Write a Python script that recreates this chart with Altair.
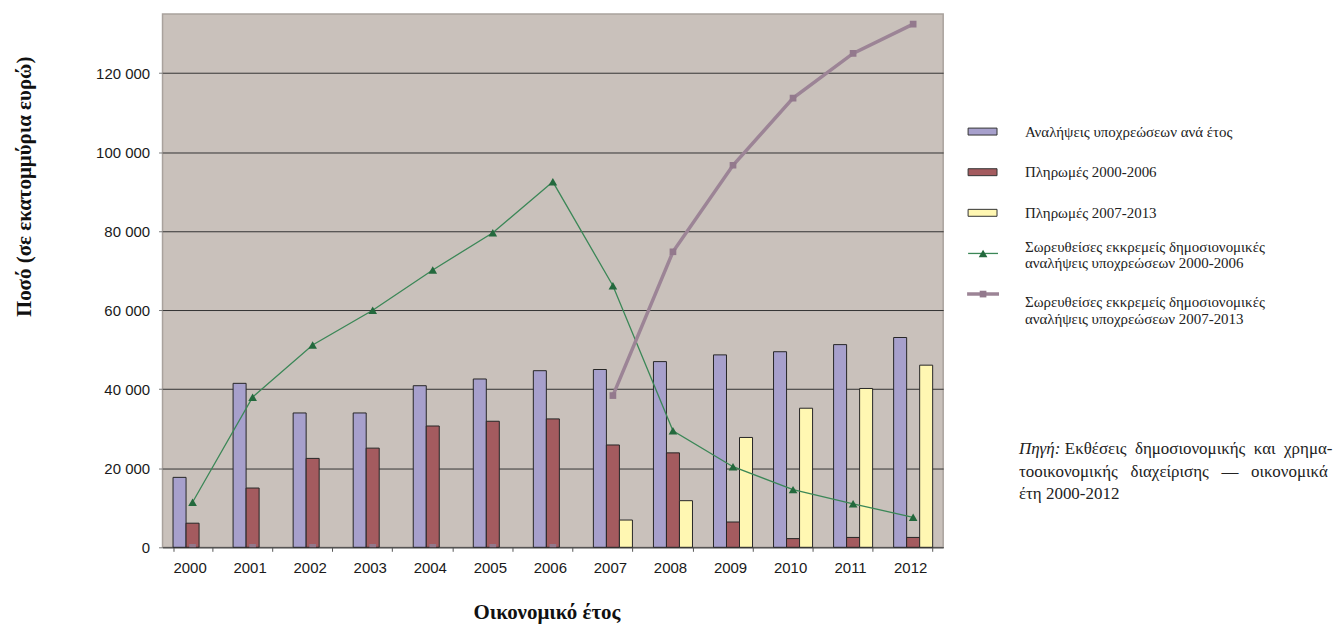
import altair as alt
import pandas as pd

years = [str(y) for y in range(2000, 2013)]

bar_series = ["Αναλήψεις υποχρεώσεων ανά έτος", "Πληρωμές 2000-2006", "Πληρωμές 2007-2013"]
commitments = [17700, 41500, 34000, 34000, 40900, 42600, 44700, 45000, 47000, 48700, 49500, 51300, 53100]
pay_0006 = [6100, 15000, 22500, 25100, 30700, 31900, 32500, 25900, 23900, 6400, 2200, 2500, 2500]
pay_0713 = [0, 0, 0, 0, 0, 0, 0, 6900, 11800, 27800, 35200, 40200, 46100]

ral_0006 = [11400, 38000, 51200, 60000, 70200, 79600, 92500, 66200, 29500, 20400, 14600, 11000, 7600]
ral_0713 = [0, 0, 0, 0, 0, 0, 0, 38400, 74800, 96700, 113700, 125000, 132400]

legend_labels = [
    "Αναλήψεις υποχρεώσεων ανά έτος",
    "Πληρωμές 2000-2006",
    "Πληρωμές 2007-2013",
    "Σωρευθείσες εκκρεμείς δημοσιονομικές\nαναλήψεις υποχρεώσεων 2000-2006",
    "Σωρευθείσες εκκρεμείς δημοσιονομικές\nαναλήψεις υποχρεώσεων 2007-2013",
]
NB = "\u00a0"
source_head = "Πηγή:"
source_line1 = "Εκθέσεις" + NB + " δημοσιονομικής" + NB + " και" + NB + " χρημα-"
source_rest = ("τοοικονομικής" + NB * 2 + " διαχείρισης" + NB * 2 + " —" + NB * 2 + " οικονομικά"
               + "\nέτη 2000-2012")

bar_colors = ["#A7A0CC", "#A45B5F", "#FFF7B2"]
green_line_c = "#3B8757"
green_mark_c = "#23693D"
purple_line_c = "#9C8496"
purple_mark_c = "#93798D"

rows = []
for vals, s in zip([commitments, pay_0006, pay_0713], bar_series):
    for y, v in zip(years, vals):
        rows.append({"year": y, "series": s, "value": v})
bars_df = pd.DataFrame(rows)
bars_df = bars_df[bars_df["value"] > 0]

lines_df = pd.DataFrame({"year": years, "v1": ral_0006, "v2": ral_0713})

x_title = "Οικονομικό  έτος"
y_title = "Ποσό (σε εκατομμύρια ευρώ)"
x_scale = alt.Scale(paddingInner=0.35, paddingOuter=0.175)
y_scale = alt.Scale(domain=[0, 135000], nice=False)
x_axis = alt.Axis(labelAngle=0, tickBand="extent", labelOffset=-3, titleX=385)
y_axis = alt.Axis(values=[0, 20000, 40000, 60000, 80000, 100000, 120000],
                  labelExpr="replace(format(datum.value, ','), ',', ' ')", titleY=173)

def X():
    return alt.X("year:N", scale=x_scale, axis=x_axis, title=x_title)

def Y(field):
    return alt.Y(field, scale=y_scale, axis=y_axis, title=y_title)

bars = alt.Chart(bars_df).mark_bar(stroke="#262626", strokeWidth=1).encode(
    x=X(),
    xOffset=alt.XOffset("series:N", scale=alt.Scale(domain=bar_series, paddingInner=0, paddingOuter=0)),
    y=Y("value:Q"),
    fill=alt.Fill("series:N", scale=alt.Scale(domain=bar_series, range=bar_colors), legend=None),
)

base = alt.Chart(lines_df)
green_line = base.mark_line(color=green_line_c, strokeWidth=1.3).encode(x=X(), y=Y("v1:Q"))
green_pts = base.mark_point(shape="triangle-up", filled=True, size=75, color=green_mark_c, opacity=1).encode(
    x=X(), y=Y("v1:Q"))
purple_line = base.transform_filter("datum.v2 > 0").mark_line(color=purple_line_c, strokeWidth=3.5).encode(
    x=X(), y=Y("v2:Q"))
purple_pts = base.mark_point(shape="square", filled=True, size=45, color=purple_mark_c, opacity=1, clip=True).encode(
    x=X(), y=Y("v2:Q"))

main = alt.layer(bars, green_line, green_pts, purple_line, purple_pts).properties(
    width=783, height=535,
    view=alt.ViewBackground(fill="#C9C1BB", stroke="#A9A29D", strokeWidth=1.5),
)

# legend panel
leg_df = pd.DataFrame({"label": legend_labels, "row": list(range(len(legend_labels)))})
ly_scale = alt.Scale(domain=[-2.896, 10.233], reverse=True, nice=False, zero=False)
LY = alt.Y("row:Q", scale=ly_scale, axis=None)
lbase = alt.Chart(leg_df)

leg_bars = lbase.transform_filter("datum.row < 3").mark_point(
    shape="M-1,-0.24H1V0.24H-1Z", size=841, filled=True, stroke="#333333", strokeWidth=1, opacity=1
).encode(x=alt.value(21.5), y=LY,
         fill=alt.Fill("label:N", scale=alt.Scale(domain=legend_labels[:3], range=bar_colors), legend=None))
leg_g_line = lbase.transform_filter("datum.row == 3").mark_rule(color=green_line_c, strokeWidth=1.3).encode(
    x=alt.value(7), x2=alt.value(37), y=LY)
leg_g_pt = lbase.transform_filter("datum.row == 3").mark_point(
    shape="triangle-up", filled=True, size=75, color=green_mark_c, opacity=1).encode(x=alt.value(22), y=LY)
leg_p_line = lbase.transform_filter("datum.row == 4").mark_rule(color=purple_line_c, strokeWidth=3.5).encode(
    x=alt.value(6), x2=alt.value(38), y=LY)
leg_p_pt = lbase.transform_filter("datum.row == 4").mark_point(
    shape="square", filled=True, size=45, color=purple_mark_c, opacity=1).encode(x=alt.value(22), y=LY)
leg_text = lbase.transform_calculate(
    trow="datum.row == 3 ? datum.row - 0.17 : (datum.row == 4 ? datum.row + 0.19 : datum.row)"
).mark_text(
    align="left", baseline="middle", font="Liberation Serif", fontSize=15, lineBreak="\n",
    lineHeight=17, color="#222222"
).encode(x=alt.value(64), y=alt.Y("trow:Q", scale=ly_scale, axis=None), text="label:N")

src_df = pd.DataFrame({"head": [source_head], "l1": [source_line1], "rest": [source_rest]})
sbase = alt.Chart(src_df)
src_font = dict(font="Liberation Serif", fontSize=17, color="#222222", baseline="middle", align="left")
src_head = sbase.mark_text(fontStyle="italic", **src_font).encode(
    x=alt.value(58), y=alt.value(436), text="head:N")
src_l1 = sbase.mark_text(**src_font).encode(x=alt.value(104), y=alt.value(436), text="l1:N")
src_rest = sbase.mark_text(lineBreak="\n", lineHeight=22, **src_font).encode(
    x=alt.value(58), y=alt.value(459.5), text="rest:N")

legend_panel = alt.layer(leg_bars, leg_g_line, leg_g_pt, leg_p_line, leg_p_pt, leg_text,
                         src_head, src_l1, src_rest).properties(
    width=368, height=535,
    view=alt.ViewBackground(fill="transparent", stroke="transparent"),
)

chart = alt.hconcat(main, legend_panel, spacing=16).properties(
    padding={"left": 5, "top": 4, "right": 0, "bottom": 0},
    background="white",
).configure_axis(
    labelFont="Liberation Sans", labelFontSize=15, labelColor="#1a1a1a",
    titleFont="Liberation Serif", titleFontSize=21, titleFontWeight="bold", titleColor="#111111",
).configure_axisX(
    domainColor="#555555", tickColor="#555555", tickSize=4, labelPadding=9, titlePadding=26, grid=False,
).configure_axisY(
    domain=False, tickColor="#777777", tickSize=4, labelPadding=9, titlePadding=61,
    grid=True, gridColor="#333333", gridWidth=1,
).configure_view(stroke="transparent")

chart.save("out.html", embed_options={"renderer": "svg", "actions": False})
